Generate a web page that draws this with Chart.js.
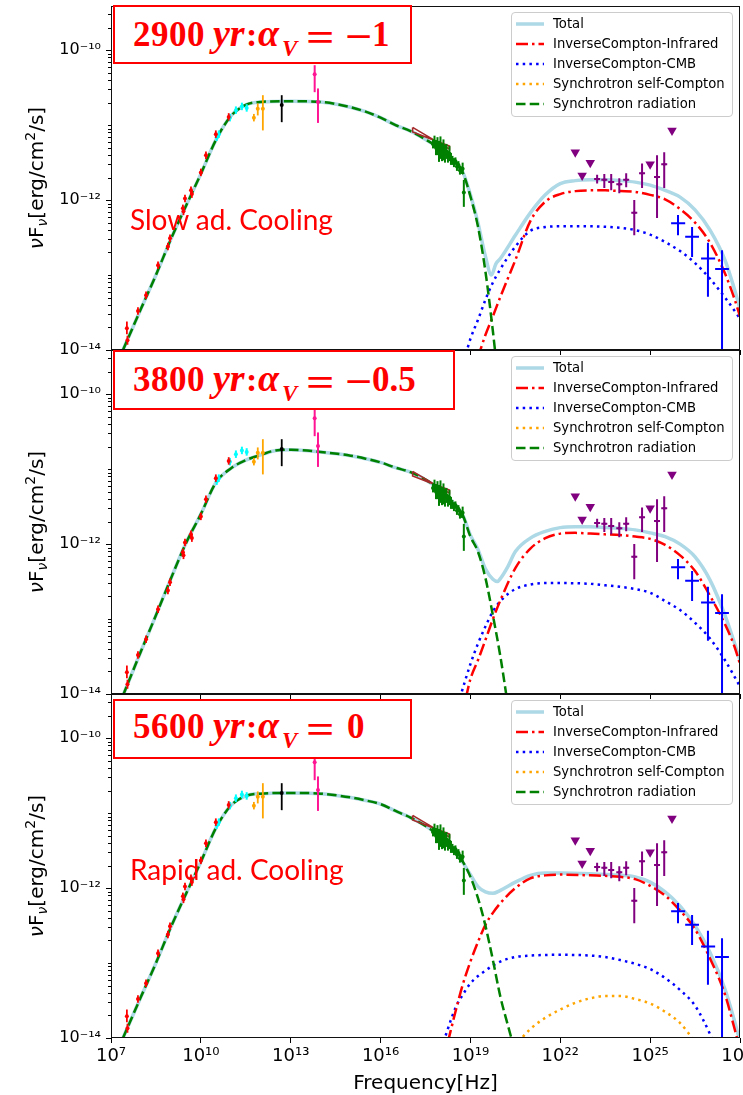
<!DOCTYPE html>
<html><head><meta charset="utf-8">
<script src="https://cdn.jsdelivr.net/npm/chart.js@4.4.1/dist/chart.umd.min.js"></script>
<style>
html,body{margin:0;padding:0;background:#fff;}
#page{position:relative;width:743px;height:1095px;overflow:hidden;background:#fff;}
#page canvas{position:absolute;left:0;}
.tbox{position:absolute;box-sizing:border-box;border:2px solid #ff0000;background:#fff;}
.tok{position:absolute;white-space:nowrap;color:#ff0000;transform-origin:0 50%;}
.legend{position:absolute;left:511px;width:222px;height:105px;box-sizing:border-box;border:1px solid #cccccc;border-radius:4px;background:rgba(255,255,255,0.8);font-family:'DejaVu Sans';font-size:13.2px;color:#000;}
.lrow{position:absolute;left:0;height:20px;width:100%;}
.lrow svg{position:absolute;left:4px;top:0;}
.lrow span{position:absolute;left:41px;top:0;line-height:20px;white-space:nowrap;}
.yt{position:absolute;left:43px;width:0;height:0;transform:rotate(-90deg);transform-origin:0 0;}
.yt span{position:absolute;left:0;top:-17px;line-height:20px;font-family:'DejaVu Sans';font-size:20px;white-space:nowrap;transform:translateX(-50%);color:#000;}
.yt sub,.yt sup{font-size:70%;line-height:0;}
.yt sub{vertical-align:-0.25em;}
</style></head>
<body>
<div id="page">
<canvas id="c1" width="780" height="384" style="top:-14px"></canvas>
<canvas id="c2" width="780" height="384" style="top:330px"></canvas>
<canvas id="c3" width="780" height="421" style="top:674px"></canvas>
</div>
<script>
// ================= DATA (log10 values) =================
const xTickValues = [1e7, 1e10, 1e13, 1e16, 1e19, 1e22, 1e25, 1e28];
const xTickLabels = ['10⁷', '10¹⁰', '10¹³', '10¹⁶', '10¹⁹', '10²²', '10²⁵', '10²⁸'];
const yTickValues = [1e-14, 1e-12, 1e-10];
const yTickLabels = ['10⁻¹⁴', '10⁻¹²', '10⁻¹⁰'];
const legendLabels = ['Total', 'InverseCompton-Infrared', 'InverseCompton-CMB', 'Synchrotron self-Compton', 'Synchrotron radiation'];
const panelAges = ['2900', '3800', '5600'];
const panelAlphas = ['−1', '−0.5', '0'];
const coolingNotes = ['Slow ad. Cooling', '', 'Rapid ad. Cooling'];

// observations (log10 ν [Hz], log10 νFν [erg/cm2/s])
const radioLogNu = [7.53, 7.55, 7.9, 8.17, 8.57, 8.9, 8.97, 9.4, 9.42, 9.47, 9.67, 9.7, 10.0, 10.17, 10.5, 10.93];
const radioLogF  = [-13.71, -13.87, -13.48, -13.27, -12.87, -12.62, -12.51, -12.11, -12.15, -11.98, -11.87, -11.92, -11.63, -11.4, -11.12, -10.89];
const radioLo    = [-13.79, -13.93, -13.53, -13.32, -12.92, -12.67, -12.56, -12.16, -12.2, -12.03, -11.92, -11.97, -11.68, -11.45, -11.17, -10.94];
const radioHi    = [-13.62, -13.81, -13.43, -13.22, -12.82, -12.57, -12.46, -12.06, -12.1, -11.93, -11.82, -11.87, -11.58, -11.35, -11.07, -10.84];

const cyanLogNu = [10.53, 10.6, 10.97, 11.17, 11.37, 11.53];
const cyanLogF  = [-11.16, -11.12, -10.9, -10.8, -10.75, -10.77];
const cyanLo    = [-11.21, -11.17, -10.95, -10.85, -10.8, -10.82];
const cyanHi    = [-11.11, -11.07, -10.85, -10.75, -10.7, -10.72];

const orangeLogNu = [11.77, 11.9, 12.07];
const orangeLogF  = [-10.9, -10.78, -10.78];
const orangeLo    = [-10.95, -10.87, -11.07];
const orangeHi    = [-10.85, -10.71, -10.6];

const blackLogNu = [12.7];
const blackLogF  = [-10.73];
const blackLo    = [-10.96];
const blackHi    = [-10.6];

const pinkLogNu = [13.8, 13.91];
const pinkLogF  = [-10.32, -10.69];
const pinkLo    = [-10.56, -10.97];
const pinkHi    = [-10.2, -10.51];

const bowtieLogNu = [17.07, 18.3, 18.3, 17.07, 17.07];
const bowtieLogF  = [-11.03, -11.32, -11.28, -11.09, -11.03];

const xrayLogNu = [17.75, 17.8, 17.85, 17.9, 17.95, 18.0, 18.05, 18.1, 18.15, 18.2, 18.25, 18.3, 18.35, 18.4, 18.45, 18.5, 18.55, 18.6, 18.65, 18.7, 18.74, 18.78];
const xrayLogF  = [-11.25, -11.22, -11.3, -11.28, -11.35, -11.3, -11.36, -11.33, -11.38, -11.35, -11.42, -11.38, -11.45, -11.47, -11.5, -11.48, -11.55, -11.53, -11.6, -11.6, -11.58, -11.9];
const xrayLo    = [-11.31, -11.3, -11.4, -11.4, -11.49, -11.45, -11.48, -11.47, -11.5, -11.45, -11.5, -11.48, -11.53, -11.53, -11.56, -11.53, -11.61, -11.58, -11.66, -11.65, -11.65, -12.09];
const xrayHi    = [-11.19, -11.14, -11.2, -11.16, -11.21, -11.15, -11.24, -11.19, -11.26, -11.25, -11.34, -11.28, -11.37, -11.41, -11.44, -11.43, -11.49, -11.48, -11.54, -11.55, -11.5, -11.73];

const fermiLogNu = [23.23, 23.47, 23.7, 23.97, 24.2, 24.47, 24.73, 25.23, 25.47];
const fermiLogF  = [-11.72, -11.73, -11.76, -11.79, -11.73, -12.17, -11.64, -11.69, -11.52];
const fermiLo    = [-11.78, -11.84, -11.87, -11.91, -11.83, -12.47, -11.84, -12.24, -11.84];
const fermiHi    = [-11.66, -11.65, -11.65, -11.71, -11.64, -12.0, -11.51, -11.4, -11.36];
const fermiNuLo  = [23.13, 23.37, 23.6, 23.87, 24.1, 24.37, 24.63, 25.13, 25.37];
const fermiNuHi  = [23.33, 23.57, 23.8, 24.07, 24.3, 24.57, 24.83, 25.33, 25.57];

const ulLogNu = [22.5, 22.73, 23.0, 25.0, 25.73];
const ulLogF  = [-11.36, -11.67, -11.5, -11.52, -11.07];

const hessLogNu = [25.93, 26.4, 26.93, 27.4];
const hessLogF  = [-12.31, -12.49, -12.78, -12.92];
const hessLo    = [-12.47, -12.76, -13.29, -16.0];
const hessHi    = [-12.2, -12.36, -12.57, -12.67];
const hessNuLo  = [25.7, 26.17, 26.7, 27.17];
const hessNuHi  = [26.17, 26.63, 27.17, 27.63];

// model curves, panel 1 (2900 yr)
const syn1LogNu = [7.4, 8.0, 8.5, 9.0, 9.5, 10.0, 10.5, 11.0, 11.5, 12.0, 13.0, 14.0, 15.0, 15.5, 16.0, 16.5, 17.0, 17.5, 18.0, 18.5, 18.75, 19.0, 19.25, 19.5, 19.75, 19.9];
const syn1LogF  = [-14.0, -13.45, -13.0, -12.52, -12.08, -11.65, -11.2, -10.88, -10.73, -10.69, -10.68, -10.69, -10.76, -10.82, -10.9, -11.0, -11.08, -11.19, -11.32, -11.5, -11.64, -11.95, -12.35, -12.95, -13.75, -14.3];
const tot1LogNu = [7.4, 8.0, 8.5, 9.0, 9.5, 10.0, 10.5, 11.0, 11.5, 12.0, 13.0, 14.0, 15.0, 15.5, 16.0, 16.5, 17.0, 17.5, 18.0, 18.5, 18.75, 19.0, 19.25, 19.5, 19.7, 19.85, 20.0, 20.5, 21.0, 21.5, 22.0, 22.5, 23.0, 23.5, 24.0, 24.5, 25.0, 25.5, 26.0, 26.5, 27.0, 27.5, 27.8, 28.0];
const tot1LogF  = [-14.0, -13.45, -13.0, -12.52, -12.08, -11.65, -11.2, -10.88, -10.73, -10.69, -10.68, -10.69, -10.76, -10.82, -10.9, -11.0, -11.08, -11.19, -11.32, -11.5, -11.63, -11.93, -12.3, -12.75, -13.0, -12.85, -12.78, -12.47, -12.17, -11.93, -11.78, -11.74, -11.73, -11.73, -11.74, -11.76, -11.8, -11.87, -11.96, -12.13, -12.4, -12.8, -13.17, -13.45];
const ir1LogNu  = [19.25, 19.5, 19.75, 20.0, 20.5, 21.0, 21.5, 22.0, 22.5, 23.0, 23.5, 24.0, 24.5, 25.0, 25.5, 26.0, 26.5, 27.0, 27.5, 27.8, 28.0];
const ir1LogF   = [-14.1, -13.8, -13.55, -13.29, -12.8, -12.28, -12.02, -11.92, -11.88, -11.87, -11.87, -11.88, -11.89, -11.93, -11.99, -12.12, -12.3, -12.57, -12.98, -13.3, -13.55];
const cmb1LogNu = [18.85, 19.0, 19.25, 19.5, 19.75, 20.0, 20.5, 21.0, 21.5, 22.0, 23.0, 24.0, 24.5, 25.0, 25.5, 26.0, 26.5, 27.0, 27.5, 28.0];
const cmb1LogF  = [-14.05, -13.85, -13.6, -13.33, -13.1, -12.92, -12.62, -12.41, -12.36, -12.35, -12.35, -12.37, -12.4, -12.46, -12.56, -12.68, -12.84, -13.05, -13.3, -13.58];
const ssc1LogNu = [];
const ssc1LogF  = [];

// model curves, panel 2 (3800 yr)
const syn2LogNu = [7.4, 8.0, 8.5, 9.0, 9.5, 10.0, 10.5, 11.0, 11.5, 12.0, 12.5, 13.0, 14.0, 15.0, 15.5, 16.0, 16.5, 17.0, 17.5, 18.0, 18.5, 18.75, 19.0, 19.25, 19.5, 19.75, 20.0, 20.25];
const syn2LogF  = [-14.02, -13.43, -12.95, -12.46, -11.99, -11.6, -11.18, -10.99, -10.88, -10.81, -10.75, -10.74, -10.77, -10.82, -10.86, -10.91, -10.98, -11.04, -11.14, -11.28, -11.48, -11.62, -11.9, -12.1, -12.45, -12.95, -13.5, -14.15];
const tot2LogNu = [7.4, 8.0, 8.5, 9.0, 9.5, 10.0, 10.5, 11.0, 11.5, 12.0, 12.5, 13.0, 14.0, 15.0, 15.5, 16.0, 16.5, 17.0, 17.5, 18.0, 18.5, 18.75, 19.0, 19.25, 19.5, 19.75, 19.9, 20.0, 20.25, 20.5, 21.0, 21.5, 22.0, 22.5, 23.0, 23.5, 24.0, 24.5, 25.0, 25.5, 26.0, 26.5, 27.0, 27.5, 27.8, 28.0];
const tot2LogF  = [-14.02, -13.43, -12.95, -12.46, -11.99, -11.6, -11.18, -10.99, -10.88, -10.81, -10.75, -10.74, -10.77, -10.82, -10.86, -10.91, -10.98, -11.04, -11.14, -11.28, -11.48, -11.62, -11.88, -12.07, -12.33, -12.47, -12.5, -12.46, -12.3, -12.1, -11.92, -11.83, -11.78, -11.77, -11.77, -11.78, -11.79, -11.81, -11.85, -11.9, -12.0, -12.17, -12.48, -12.95, -13.3, -13.55];
const ir2LogNu  = [18.85, 19.0, 19.25, 19.5, 19.75, 20.0, 20.5, 21.0, 21.5, 22.0, 22.5, 23.0, 23.5, 24.0, 24.5, 25.0, 25.5, 26.0, 26.5, 27.0, 27.5, 27.8, 28.0];
const ir2LogF   = [-14.05, -13.8, -13.55, -13.28, -13.0, -12.75, -12.32, -12.06, -11.92, -11.86, -11.85, -11.86, -11.87, -11.88, -11.9, -11.93, -12.01, -12.15, -12.36, -12.69, -13.07, -13.35, -13.6];
const cmb2LogNu = [18.65, 19.0, 19.25, 19.5, 19.75, 20.0, 20.5, 21.0, 21.5, 22.0, 23.0, 23.5, 24.0, 24.5, 25.0, 25.5, 26.0, 26.5, 27.0, 27.5, 28.0];
const cmb2LogF  = [-14.05, -13.6, -13.33, -13.1, -12.9, -12.76, -12.6, -12.54, -12.52, -12.52, -12.53, -12.55, -12.57, -12.6, -12.65, -12.76, -12.88, -13.05, -13.26, -13.55, -13.9];
const ssc2LogNu = [];
const ssc2LogF  = [];

// model curves, panel 3 (5600 yr)
const syn3LogNu = [7.4, 8.0, 8.5, 9.0, 9.5, 10.0, 10.5, 11.0, 11.5, 12.0, 13.0, 14.0, 15.0, 15.5, 16.0, 16.5, 17.0, 17.5, 18.0, 18.5, 18.75, 19.0, 19.25, 19.5, 19.75, 20.0, 20.25, 20.4];
const syn3LogF  = [-14.0, -13.45, -13.0, -12.52, -12.08, -11.65, -11.2, -10.9, -10.77, -10.74, -10.73, -10.74, -10.79, -10.83, -10.88, -10.97, -11.06, -11.17, -11.32, -11.52, -11.65, -11.85, -12.13, -12.5, -12.96, -13.45, -13.83, -14.05];
const tot3LogNu = [7.4, 8.0, 8.5, 9.0, 9.5, 10.0, 10.5, 11.0, 11.5, 12.0, 13.0, 14.0, 15.0, 15.5, 16.0, 16.5, 17.0, 17.5, 18.0, 18.5, 18.75, 19.0, 19.25, 19.5, 19.75, 20.0, 20.5, 21.0, 21.5, 22.0, 23.0, 24.0, 24.5, 25.0, 25.5, 26.0, 26.5, 27.0, 27.5, 27.8, 28.0];
const tot3LogF  = [-14.0, -13.45, -13.0, -12.52, -12.08, -11.65, -11.2, -10.9, -10.77, -10.74, -10.73, -10.74, -10.79, -10.83, -10.88, -10.97, -11.06, -11.17, -11.32, -11.52, -11.66, -11.82, -11.98, -12.05, -12.07, -12.03, -11.92, -11.83, -11.8, -11.8, -11.81, -11.83, -11.85, -11.92, -12.05, -12.24, -12.5, -12.86, -13.35, -13.75, -14.05];
const ir3LogNu  = [18.25, 18.5, 18.75, 19.0, 19.25, 19.5, 19.75, 20.0, 20.5, 21.0, 21.5, 22.0, 23.0, 24.0, 24.5, 25.0, 25.5, 26.0, 26.5, 27.0, 27.5, 27.8, 28.0];
const ir3LogF   = [-14.05, -13.65, -13.28, -12.98, -12.72, -12.49, -12.33, -12.2, -12.0, -11.87, -11.83, -11.82, -11.83, -11.85, -11.88, -11.97, -12.1, -12.3, -12.55, -12.94, -13.42, -13.85, -14.15];
const cmb3LogNu = [18.1, 18.5, 18.75, 19.0, 19.5, 20.0, 20.5, 21.0, 22.0, 23.0, 23.5, 24.0, 24.5, 25.0, 25.5, 26.0, 26.5, 27.0, 27.15];
const cmb3LogF  = [-14.05, -13.6, -13.42, -13.27, -13.1, -12.98, -12.92, -12.9, -12.89, -12.9, -12.92, -12.96, -13.01, -13.08, -13.2, -13.36, -13.57, -13.95, -14.1];
const ssc3LogNu = [20.6, 21.0, 21.5, 22.0, 22.5, 23.0, 23.5, 24.0, 24.5, 25.0, 25.5, 26.0, 26.5];
const ssc3LogF  = [-14.05, -13.88, -13.73, -13.62, -13.53, -13.47, -13.44, -13.44, -13.48, -13.54, -13.65, -13.8, -14.05];

const X_MIN = 1e7, X_MAX = 1e28, Y_MIN = 1e-14, Y_MAX = Math.pow(10, -9.41);

// ================= helpers =================
const P = v => Math.pow(10, v);
const pts = (nu, f) => nu.map((v, i) => ({x: P(v), y: P(f[i])}));

const panels = [
  {tot: [tot1LogNu, tot1LogF], ir: [ir1LogNu, ir1LogF], cmb: [cmb1LogNu, cmb1LogF], ssc: [ssc1LogNu, ssc1LogF], syn: [syn1LogNu, syn1LogF]},
  {tot: [tot2LogNu, tot2LogF], ir: [ir2LogNu, ir2LogF], cmb: [cmb2LogNu, cmb2LogF], ssc: [ssc2LogNu, ssc2LogF], syn: [syn2LogNu, syn2LogF]},
  {tot: [tot3LogNu, tot3LogF], ir: [ir3LogNu, ir3LogF], cmb: [cmb3LogNu, cmb3LogF], ssc: [ssc3LogNu, ssc3LogF], syn: [syn3LogNu, syn3LogF]}
];

const curveStyles = {
  tot: {color: '#add8e6', width: 3.5, dash: []},
  ir:  {color: '#ff0000', width: 2.5, dash: [12, 4, 2.5, 4]},
  cmb: {color: '#0000ff', width: 2.5, dash: [2.5, 4.2]},
  ssc: {color: '#ffa500', width: 2.5, dash: [2.5, 4.2]},
  syn: {color: '#008000', width: 2.5, dash: [9.5, 4.2]}
};

function obs(label, nu, f, lo, hi, color, radius, errW, order, nuLo, nuHi) {
  return {
    label, data: pts(nu, f), showLine: false, clip: 0, order,
    pointRadius: radius, pointBackgroundColor: color, pointBorderWidth: 0, pointBorderColor: color,
    err: {color, width: errW,
      yLo: lo ? lo.map(P) : null, yHi: hi ? hi.map(P) : null,
      xLo: nuLo ? nuLo.map(P) : null, xHi: nuHi ? nuHi.map(P) : null}
  };
}

function curve(key, arr, order) {
  const s = curveStyles[key];
  return {
    label: key, data: pts(arr[0], arr[1]), showLine: true, clip: 0, order,
    borderColor: s.color, borderWidth: s.width, borderDash: s.dash, borderCapStyle: 'butt',
    pointRadius: 0, cubicInterpolationMode: 'monotone', fill: false
  };
}

function buildDatasets(p) {
  return [
    obs('radio', radioLogNu, radioLogF, radioLo, radioHi, '#ff0000', 2, 1.8, 1),
    obs('cyan', cyanLogNu, cyanLogF, cyanLo, cyanHi, '#00ffff', 2, 2, 1),
    obs('orange', orangeLogNu, orangeLogF, orangeLo, orangeHi, '#ffa500', 2, 1.8, 1),
    obs('black', blackLogNu, blackLogF, blackLo, blackHi, '#000000', 2, 1.8, 1),
    obs('pink', pinkLogNu, pinkLogF, pinkLo, pinkHi, '#ff1493', 2, 2, 1),
    obs('xray', xrayLogNu, xrayLogF, xrayLo, xrayHi, '#008000', 2, 2, 2),
    {label: 'bowtie', data: pts(bowtieLogNu, bowtieLogF), showLine: true, clip: 0, order: 3,
     borderColor: '#a52a2a', borderWidth: 1.6, pointRadius: 0, tension: 0, fill: false},
    obs('fermi', fermiLogNu, fermiLogF, fermiLo, fermiHi, '#800080', 1.5, 2, 1, fermiNuLo, fermiNuHi),
    {label: 'ul', data: pts(ulLogNu, ulLogF), showLine: false, clip: 0, order: 1,
     pointStyle: 'triangle', rotation: 180, pointRadius: 5.5, pointBackgroundColor: '#800080', pointBorderWidth: 0},
    obs('hess', hessLogNu, hessLogF, hessLo, hessHi, '#0000ff', 0, 2, 1, hessNuLo, hessNuHi),
    curve('syn', p.syn, 10),
    curve('ir', p.ir, 11),
    curve('cmb', p.cmb, 12),
    curve('ssc', p.ssc, 13),
    curve('tot', p.tot, 20)
  ];
}

const errorBarPlugin = {
  id: 'errbars',
  beforeDatasetDraw(chart, args) {
    const ds = chart.data.datasets[args.index];
    if (!ds.err) return;
    const {ctx, chartArea: a} = chart;
    const x = chart.scales.x, y = chart.scales.y;
    ctx.save();
    ctx.beginPath(); ctx.rect(a.left, a.top, a.right - a.left, a.bottom - a.top); ctx.clip();
    ctx.strokeStyle = ds.err.color; ctx.lineWidth = ds.err.width; ctx.lineCap = 'butt';
    ds.data.forEach((p, i) => {
      const px = x.getPixelForValue(p.x), py = y.getPixelForValue(p.y);
      ctx.beginPath();
      if (ds.err.yLo) { ctx.moveTo(px, y.getPixelForValue(ds.err.yLo[i])); ctx.lineTo(px, y.getPixelForValue(ds.err.yHi[i])); }
      if (ds.err.xLo) { ctx.moveTo(x.getPixelForValue(ds.err.xLo[i]), py); ctx.lineTo(x.getPixelForValue(ds.err.xHi[i]), py); }
      ctx.stroke();
    });
    ctx.restore();
  }
};

const framePlugin = {
  id: 'frame',
  afterDraw(chart) {
    const {ctx, chartArea: a} = chart;
    const y = chart.scales.y;
    ctx.save();
    ctx.strokeStyle = '#000'; ctx.lineWidth = 1;
    // minor y ticks (2..9 x 10^n and unlabeled decades)
    ctx.beginPath();
    for (let n = -15; n <= -9; n++) {
      for (let k = 1; k <= 9; k++) {
        const v = k * Math.pow(10, n);
        if (k === 1 && yTickValues.some(t => Math.abs(Math.log10(t) - n) < 1e-6)) continue;
        if (v < Y_MIN || v > Y_MAX) continue;
        const py = Math.round(y.getPixelForValue(v)) + 0.5;
        ctx.moveTo(a.left - 3, py); ctx.lineTo(a.left, py);
      }
    }
    ctx.stroke();
    ctx.strokeStyle = '#111';
    ctx.strokeRect(Math.round(a.left) + 0.5, Math.round(a.top) + 0.5, Math.round(a.right - a.left) - 1, Math.round(a.bottom - a.top) - 1);
    ctx.restore();
  }
};

Chart.defaults.font.family = 'DejaVu Sans';

function makeChart(id, p, bottom) {
  return new Chart(document.getElementById(id), {
    type: 'scatter',
    data: {datasets: buildDatasets(p)},
    options: {
      responsive: false, animation: false, devicePixelRatio: 1, events: [],
      layout: {padding: {top: 20, right: 40, bottom: 0, left: 0}},
      plugins: {legend: {display: false}, tooltip: {enabled: false}},
      scales: {
        x: {
          type: 'logarithmic', min: X_MIN, max: X_MAX, bounds: 'data', position: 'bottom',
          afterBuildTicks: s => { s.ticks = xTickValues.map(v => ({value: v, major: true})); },
          afterFit: s => { s.height = bottom ? 57 : 20; },
          ticks: {display: bottom, autoSkip: false, maxRotation: 0, padding: 3,
                  font: {family: 'DejaVu Sans', size: 18}, color: '#000',
                  callback: (v, i) => xTickLabels[i]},
          grid: {display: true, drawOnChartArea: false, drawTicks: true, tickLength: 5, color: '#000', tickWidth: 1},
          border: {display: false}
        },
        y: {
          type: 'logarithmic', min: Y_MIN, max: Y_MAX, bounds: 'data',
          afterBuildTicks: s => { s.ticks = yTickValues.map(v => ({value: v, major: true})); },
          afterFit: s => { s.width = 111; },
          ticks: {autoSkip: false, padding: 5, font: {family: 'DejaVu Sans', size: 16}, color: '#000',
                  callback: (v, i) => yTickLabels[i]},
          grid: {display: true, drawOnChartArea: false, drawTicks: true, tickLength: 5, color: '#000', tickWidth: 1},
          border: {display: false}
        }
      }
    },
    plugins: [errorBarPlugin, framePlugin]
  });
}

makeChart('c1', panels[0], false);
makeChart('c2', panels[1], false);
makeChart('c3', panels[2], true);

// ================= overlays (real HTML text) =================
const page = document.getElementById('page');
const ASC = {'Liberation Serif': 0.8375, 'Lato': 0.887, 'DejaVu Sans': 0.846};
function token(txt, x, base, fs, fam, extra) {
  const d = document.createElement('div');
  d.className = 'tok';
  d.textContent = txt;
  d.style.cssText += `left:${x}px;top:${(base - ASC[fam] * fs).toFixed(1)}px;font-size:${fs}px;line-height:${fs}px;font-family:'${fam}';` + (extra || '');
  page.appendChild(d);
  return d;
}

const boxes = [
  {left: 113, top: 5, w: 299, h: 59, base: 46},
  {left: 113, top: 350, w: 342, h: 60, base: 391},
  {left: 113, top: 699, w: 299, h: 60, base: 738}
];
const coolBase = [230, 0, 880];
const panelTops = [6, 350, 694];

boxes.forEach((b, i) => {
  const bx = document.createElement('div');
  bx.className = 'tbox';
  bx.style.cssText += `left:${b.left}px;top:${b.top}px;width:${b.w}px;height:${b.h}px;`;
  page.appendChild(bx);
  const B = 'font-weight:bold;', BI = 'font-weight:bold;font-style:italic;';
  token(panelAges[i], 133, b.base, 35, 'Liberation Serif', B + 'letter-spacing:0.5px;');
  token('yr', 213, b.base, 38, 'Liberation Serif', BI);
  token(':', 246, b.base, 34, 'Liberation Serif', B);
  token('α', 258, b.base, 38, 'Liberation Serif', BI);
  token('V', 282, b.base + 10, 23, 'Liberation Serif', BI);
  token('=', 306, b.base + 5, 40, 'Liberation Serif', B + 'transform:scaleX(1.25);');
  const a = panelAlphas[i];
  if (a.startsWith('−')) {
    token('−', 345, b.base + 4, 40, 'Liberation Serif', B + 'transform:scaleX(1.2);');
    token(a.slice(1), 372, b.base, 35, 'Liberation Serif', B);
  } else {
    token(a, 347, b.base, 35, 'Liberation Serif', B);
  }
  if (coolingNotes[i]) token(coolingNotes[i], 130, coolBase[i], 28, 'Lato', '');

  // legend
  const lg = document.createElement('div');
  lg.className = 'legend';
  lg.style.top = (panelTops[i] + 6) + 'px';
  const keys = ['tot', 'ir', 'cmb', 'ssc', 'syn'];
  keys.forEach((k, j) => {
    const s = curveStyles[k];
    const row = document.createElement('div');
    row.className = 'lrow';
    row.style.top = (1 + 20 * j) + 'px';
    row.innerHTML = `<svg width="28" height="20"><line x1="0" y1="10" x2="28" y2="10" stroke="${s.color}" stroke-width="${s.width}" ${s.dash.length ? `stroke-dasharray="${s.dash.join(',')}"` : ''}/></svg><span></span>`;
    row.querySelector('span').textContent = legendLabels[j];
    lg.appendChild(row);
  });
  page.appendChild(lg);

  // y-axis title
  const yt = document.createElement('div');
  yt.className = 'yt';
  yt.style.top = (panelTops[i] + 172) + 'px';
  yt.innerHTML = '<span><i>ν</i>F<sub><i>ν</i></sub>[erg/cm<sup>2</sup>/s]</span>';
  page.appendChild(yt);
});

const xt = document.createElement('div');
xt.textContent = 'Frequency[Hz]';
xt.style.cssText = "position:absolute;left:425.5px;top:1072px;transform:translateX(-50%);font-family:'DejaVu Sans';font-size:20px;line-height:20px;white-space:nowrap;color:#000;";
page.appendChild(xt);
</script>
</body></html>
